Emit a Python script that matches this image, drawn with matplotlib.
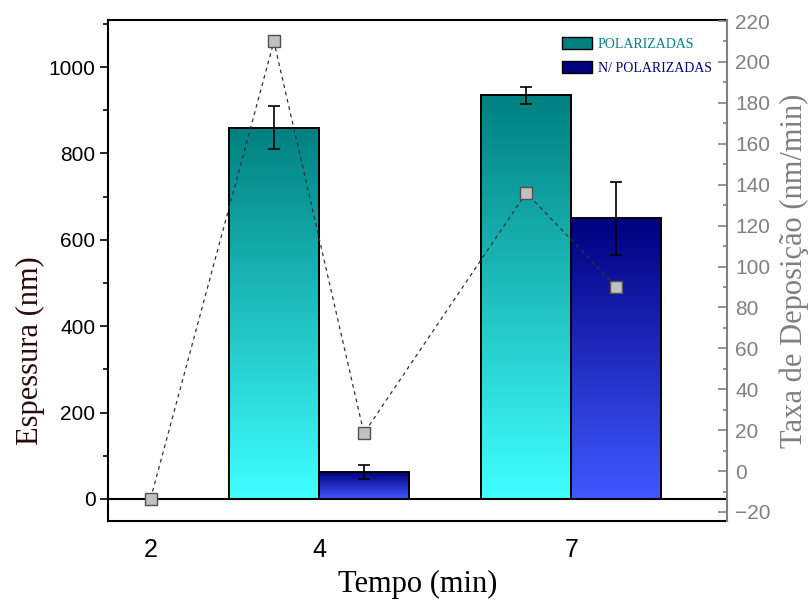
import numpy as np
import matplotlib
matplotlib.use("Agg")
import matplotlib.pyplot as plt
from matplotlib.colors import LinearSegmentedColormap
from matplotlib.patches import Patch
from matplotlib.ticker import MultipleLocator

# data
TIMES = [2, 4, 7]
BAR_TIMES = [4, 7]
THICK_POL = [860, 935]
ERR_POL = [50, 20]
THICK_NPOL = [62, 650]
ERR_NPOL = [16, 85]

RATE_TIMES = [2, 4, 4, 7, 7]
RATE_GROUP = ["none", "pol", "npol", "pol", "npol"]
RATE_VALUES = [-13.5, 210, 18.5, 136, 90]

LABELS = ["POLARIZADAS", "N/ POLARIZADAS"]

SANS = "Liberation Sans"
SERIF = "Liberation Serif"
GRAY = "#808080"
BAR_W = 1.07


def gradient_bar(ax, x, height, width, top_color, bottom_color):
    bar = ax.bar(x, height, width, facecolor="none", edgecolor="black",
                 linewidth=1.4, zorder=3)[0]
    cmap = LinearSegmentedColormap.from_list("grad", [bottom_color, top_color])
    grad = np.linspace(0, 1, 256).reshape(-1, 1)
    im = ax.imshow(grad, cmap=cmap, aspect="auto", origin="lower",
                   extent=(x - width / 2, x + width / 2, 0, height), zorder=2)
    im.set_clip_path(bar)
    return bar


fig = plt.figure(figsize=(8.12, 6.0), dpi=100)
ax = fig.add_axes([108 / 812, 79 / 600, 619 / 812, 501 / 600])

for t, h, e in zip(BAR_TIMES, THICK_POL, ERR_POL):
    gradient_bar(ax, t - BAR_W / 2, h, BAR_W, "#008080", "#40FFFF")
    ax.errorbar(t - BAR_W / 2, h, yerr=e, fmt="none", ecolor="black",
                elinewidth=1.2, capsize=4, capthick=1.2, zorder=4)
for t, h, e in zip(BAR_TIMES, THICK_NPOL, ERR_NPOL):
    gradient_bar(ax, t + BAR_W / 2, h, BAR_W, "#000080", "#4158FF")
    ax.errorbar(t + BAR_W / 2, h, yerr=e, fmt="none", ecolor="black",
                elinewidth=1.2, capsize=4, capthick=1.2, zorder=4)

ax.axhline(0, color="black", linewidth=1.5, zorder=5)
ax.set_xlim(1.494, 8.849)
ax.set_ylim(-51, 1109)
ax.yaxis.set_major_locator(MultipleLocator(200))
ax.yaxis.set_minor_locator(MultipleLocator(100))
ax.tick_params(axis="y", which="major", direction="out", length=6, width=1.2,
               labelsize=15, pad=3)
ax.tick_params(axis="y", which="minor", direction="out", length=3.5, width=1.2)
for lab in ax.get_yticklabels():
    lab.set_fontfamily(SANS)
ax.set_xticks(TIMES)
ax.set_xticklabels([str(t) for t in TIMES], fontfamily=SANS, fontsize=18)
ax.tick_params(axis="x", length=0, pad=12)
for side in ["left", "bottom", "top"]:
    ax.spines[side].set_linewidth(1.5)
ax.spines["right"].set_visible(False)

ax.set_xlabel("Tempo (min)", fontfamily=SERIF, fontsize=22, labelpad=6)
ax.set_ylabel("Espessura (nm)", fontfamily=SERIF, fontsize=22,
              color="#2a0c0c")
ax.yaxis.set_label_coords(-0.102, 0.34)

ax2 = ax.twinx()
offsets = {"none": 0, "pol": -BAR_W / 2, "npol": BAR_W / 2}
rate_x = [t + offsets[g] for t, g in zip(RATE_TIMES, RATE_GROUP)]
ax2.plot(rate_x, RATE_VALUES, linestyle=(0, (3, 3)), color="#333333",
         linewidth=0.9, marker="s", markersize=8, markerfacecolor="#c0c0c0",
         markeredgecolor="#505050", markeredgewidth=1.0, zorder=6)
ax2.set_ylim(-24.4, 220.5)
ax2.yaxis.set_major_locator(MultipleLocator(20))
ax2.yaxis.set_minor_locator(MultipleLocator(10))
ax2.tick_params(axis="y", which="major", direction="in", length=6.5, width=1.2,
                color=GRAY, labelcolor=GRAY, labelsize=15, pad=6)
ax2.tick_params(axis="y", which="minor", direction="in", length=3.2, width=1.2,
                color=GRAY)
for lab in ax2.get_yticklabels():
    lab.set_fontfamily(SANS)
for side in ["left", "bottom", "top"]:
    ax2.spines[side].set_visible(False)
ax2.spines["right"].set_color(GRAY)
ax2.spines["right"].set_linewidth(1.5)
ax2.set_ylabel("Taxa de Deposição (nm/min)", fontfamily=SERIF, fontsize=22,
               color=GRAY, labelpad=6)

handles = [Patch(facecolor="#008080", edgecolor="black", linewidth=1.0),
           Patch(facecolor="#000080", edgecolor="black", linewidth=1.0)]
leg = ax2.legend(handles, LABELS, loc="upper left", bbox_to_anchor=(0.733, 0.966),
                 frameon=False, borderpad=0, borderaxespad=0,
                 handlelength=2.2, handleheight=0.95, handletextpad=0.4,
                 labelspacing=0.75, prop={"family": SERIF, "size": 10})
for txt, col in zip(leg.get_texts(), ["#008080", "#000080"]):
    txt.set_color(col)

fig.savefig("out.png", dpi=100)
